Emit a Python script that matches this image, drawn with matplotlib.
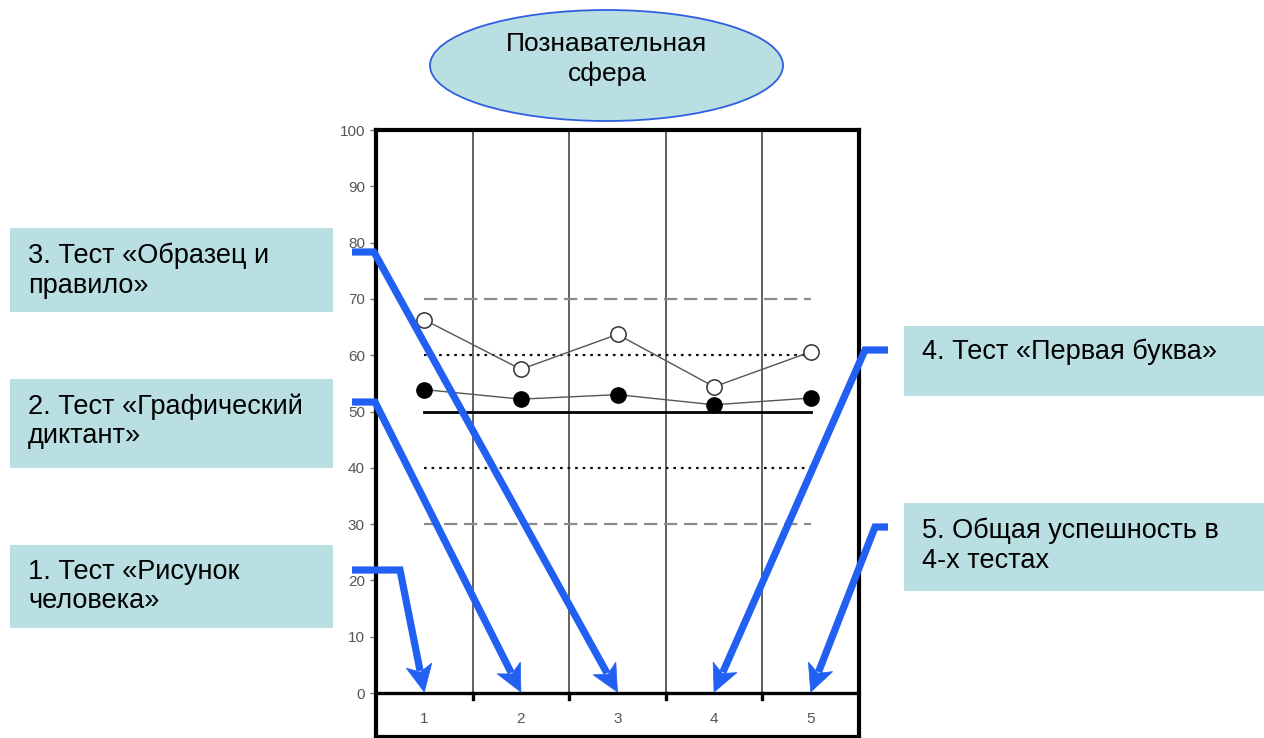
import matplotlib
matplotlib.use("Agg")
import matplotlib.pyplot as plt
from matplotlib.patches import Ellipse, Rectangle, Polygon
import numpy as np

plt.rcParams['font.family'] = ['Liberation Sans', 'DejaVu Sans']

# ---- data ----
categories = [1, 2, 3, 4, 5]
open_values = [66.3, 57.5, 63.7, 54.4, 60.6]     # open circles
filled_values = [53.9, 52.2, 53.0, 51.2, 52.4]   # filled circles
dashed_levels = [70, 30]
dotted_levels = [60, 40]
solid_level = 50
y_ticks = list(range(0, 101, 10))
x_labels = ['1', '2', '3', '4', '5']

title_text = "Познавательная\nсфера"
box_texts = {
    'b3': "3. Тест «Образец и\nправило»",
    'b2': "2. Тест «Графический\nдиктант»",
    'b1': "1. Тест «Рисунок\nчеловека»",
    'b4': "4. Тест «Первая буква»",
    'b5': "5. Общая успешность в\n4-х тестах",
}

W, H = 1264, 738
fig = plt.figure(figsize=(W / 100, H / 100), dpi=100)

# ---- main chart axes ----
L, R, T, B = 376, 859, 130, 737
ax = fig.add_axes([L / W, 1 - B / H, (R - L) / W, (B - T) / H])
ax.set_xlim(0.5, 5.5)
ax.set_ylim(-7.8, 100)
for s in ax.spines.values():
    s.set_linewidth(3.0)
    s.set_color('black')

# vertical separators (only above the zero line)
for xb in [1.5, 2.5, 3.5, 4.5]:
    ax.plot([xb, xb], [0, 100], color='#555555', lw=1.3, zorder=1)
    ax.plot([xb, xb], [0, -1.1], color='black', lw=2.4, zorder=3)
# zero line
ax.axhline(0, color='black', lw=2.4, zorder=2)

# reference lines
for lv in dashed_levels:
    ax.plot([categories[0], categories[-1]], [lv, lv], color='#8c8c8c', lw=1.6,
            dashes=(6, 3), zorder=2)
for lv in dotted_levels:
    ax.plot([categories[0], categories[-1]], [lv, lv], color='#111111', lw=1.6,
            dashes=(1.2, 2.2), zorder=2)
ax.plot([categories[0], categories[-1]], [solid_level, solid_level], color='black',
        lw=2.0, zorder=2)

# series
ax.plot(categories, open_values, color='#555555', lw=1.0, marker='o', ms=11,
        mfc='white', mec='#333333', mew=1.1, zorder=4)
ax.plot(categories, filled_values, color='#555555', lw=1.0, marker='o', ms=11,
        mfc='black', mec='black', zorder=4)

# ticks
ax.set_yticks(y_ticks)
ax.set_yticklabels([str(v) for v in y_ticks], color='#555555', fontsize=11)
ax.tick_params(axis='y', length=4, width=1, color='#777777', pad=4)
ax.set_xticks([])
for c, lab in zip(categories, x_labels):
    ax.text(c, -4.6, lab, ha='center', va='center', fontsize=11, color='#555555')

# ---- overlay axes in pixel coordinates ----
ov = fig.add_axes([0, 0, 1, 1], facecolor='none')
ov.set_xlim(0, W)
ov.set_ylim(H, 0)
ov.axis('off')

box_color = '#b9dfe2'

# ellipse title
ov.add_patch(Ellipse((606.5, 65.5), 353, 111, facecolor=box_color,
                     edgecolor='#2f5fe0', lw=1.3, zorder=5))
ov.text(607, 32, title_text, ha='center', va='top', fontsize=19,
        linespacing=1.27, color='black', zorder=6)

boxes = [
    ('b3', 10, 228, 323, 84, 28, 243),
    ('b2', 10, 379, 323, 89, 28, 393),
    ('b1', 10, 545, 323, 83, 28, 559),
    ('b4', 904, 326, 360, 70, 922, 339),
    ('b5', 904, 503, 360, 88, 922, 518),
]
for key, x0, y0, w, h, tx, ty in boxes:
    ov.add_patch(Rectangle((x0, y0), w, h, facecolor=box_color, edgecolor='none', zorder=5))
    ov.text(tx, ty, box_texts[key], ha='left', va='top', fontsize=19.5,
            linespacing=1.17, color='black', zorder=6)

# arrows
def to_px(x, y):
    dx, dy = ax.transData.transform((x, y))
    return dx, H - dy

arrow_color = '#2160f2'
arrows = [
    ([(352, 570), (400, 570)], 1),
    ([(352, 402), (375, 402)], 2),
    ([(352, 252), (374, 252)], 3),
    ([(888, 350), (865, 350)], 4),
    ([(888, 527), (875, 527)], 5),
]
for pts, cat in arrows:
    tip = np.array(to_px(cat, 0)) - np.array([0, 1])
    elbow = np.array(pts[-1], dtype=float)
    u = tip - elbow
    u /= np.hypot(*u)
    n = np.array([-u[1], u[0]])
    hl, hw = 27, 13
    base = tip - hl * u
    shaft_end = tip - 0.8 * hl * u
    xs = [p[0] for p in pts] + [shaft_end[0]]
    ys = [p[1] for p in pts] + [shaft_end[1]]
    ov.plot(xs, ys, color=arrow_color, lw=5.2, solid_joinstyle='miter',
            solid_capstyle='butt', zorder=7)
    head = [tip, base + hw * n, tip - 0.75 * hl * u, base - hw * n]
    ov.add_patch(Polygon(head, closed=True, facecolor=arrow_color,
                         edgecolor=arrow_color, lw=0.5, zorder=7))

fig.savefig('out.png', dpi=100)
